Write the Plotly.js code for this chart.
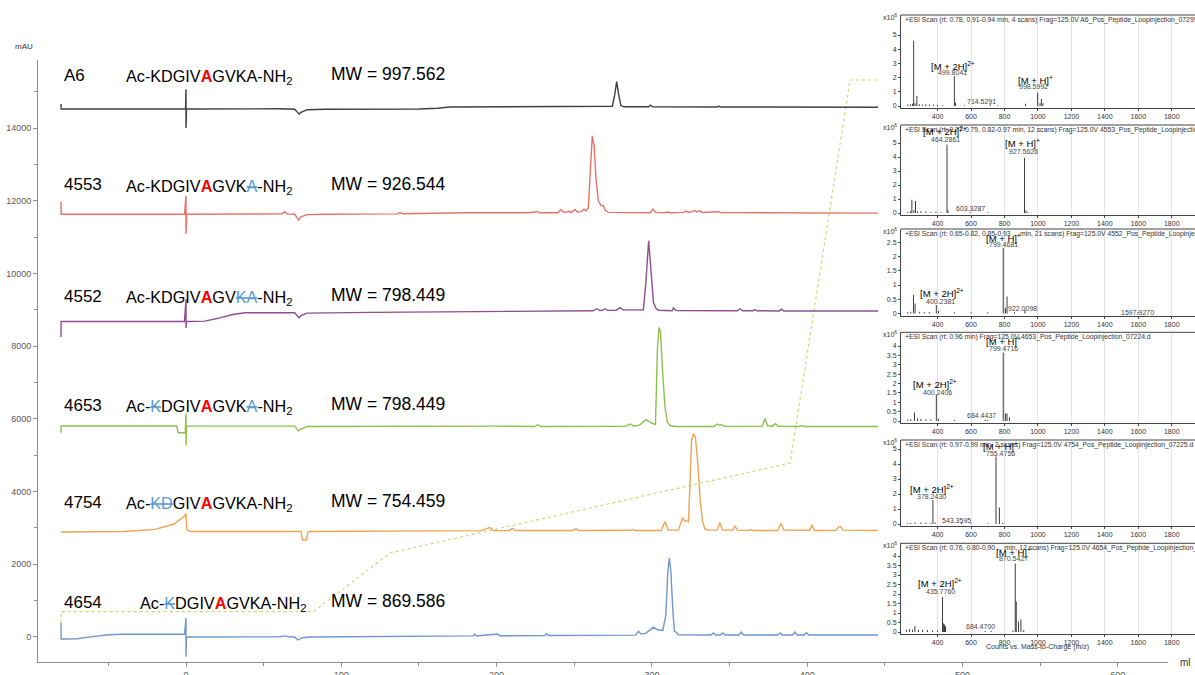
<!DOCTYPE html>
<html><head><meta charset="utf-8">
<script src="https://cdn.plot.ly/plotly-3.0.1.min.js"></script>
<style>body{margin:0;background:#fff}#c{width:1195px;height:675px}</style>
</head><body><div id="c"></div>
<script>
// ---------- Chromatogram data (ml, mAU) ----------
const a6_x = [-80.5,-80.4,-20,-0.3,0,0,0.3,60,70,72.8,74,78,90,150,162,170,200,270,274.5,276,277.3,278.5,280,282,298,299,300.5,342,343,344,445.6];
const a6_y = [14660,14525,14525,14525,15070,14000,14525,14530,14520,14385,14430,14505,14520,14525,14545,14580,14585,14580,14600,14900,15280,14950,14620,14585,14585,14630,14585,14580,14605,14580,14575];

const r_x = [-80.5,-80.4,-1,0,0,0.5,62,63.5,65,70,72.5,74,78,90,136,137.8,139.5,180,220,226.5,228,239.5,241.3,243,245,246.5,248,250.5,252,254.5,256.3,257.5,259,260.5,261.6,262.8,264,265.5,267,268.6,270,272,299,300.5,302.5,308,310,312,320.5,322,323.5,326,327.5,329,330.5,332.5,342,343,344.5,445.6];
const r_y = [11976,11630,11630,12130,11090,11630,11640,11700,11640,11630,11470,11560,11620,11630,11640,11680,11645,11670,11670,11700,11670,11670,11760,11690,11690,11710,11680,11760,11690,11700,11770,11720,11800,12900,13785,13500,12600,12000,11880,11870,11730,11680,11670,11770,11680,11670,11690,11670,11680,11720,11680,11700,11730,11690,11730,11680,11680,11700,11675,11660];

const p_x = [-80.5,-80.4,-1,0,0,0.3,12,20,30,38,70,72.8,74,78,120,200,262,264.5,266.5,268,269.8,271.5,277,279.5,281.5,294.5,296,297.9,299.5,301,302.5,304,313,313.9,315.5,355,356.7,358.5,365,366,367.5,382,383.6,385,445.6];
const p_y = [8250,8680,8680,9300,8500,8680,8690,8760,8870,8920,8920,8780,8840,8910,8930,8960,8975,9030,8980,8985,9030,8985,8990,9060,9000,9000,9700,10900,10000,9200,9050,8990,8975,9050,8980,8975,9030,8975,8975,9010,8975,8970,9020,8970,8968];

const g_x = [-80.5,-80.4,-6,-5,-0.5,0,0,0.3,70,72.5,74,78,200,224,226.5,228.5,283,286,288.5,292,296.2,300,302.3,302.8,303.6,304.6,305.5,307,308.5,310,312,315.5,340,342,343.5,345,347,371,372.8,374.5,377.5,379.5,381.5,395,396.5,398,445.6];
const g_y = [5620,5805,5805,5620,5620,6154,5274,5805,5800,5665,5720,5790,5800,5790,5840,5790,5795,5860,5800,5830,5980,5880,5850,6500,8000,8517,8400,7200,6300,5900,5810,5790,5790,5860,5830,5840,5795,5795,6010,5810,5800,5870,5795,5790,5815,5790,5790];

const o_x = [-80.5,-40,-20,-8,-1,0,0.5,3,60,74,75,77.5,78.5,80,190,195.7,198,208,210.3,212,249,251,253,270,272,274,286,287.5,289,306,308.4,310.5,317,319.8,321,322,323.5,324.5,325.5,326.7,328,329.5,331,332.5,334,336,342,343.8,345.5,352,353.5,355,362.5,363.5,365,381,383,385,401.5,403,404.5,418.5,420,421.5,423,445.6];
const o_y = [2890,2900,2960,3100,3330,3400,2950,2900,2900,2900,2670,2670,2880,2900,2925,3010,2930,2925,2990,2930,2930,2980,2930,2930,2950,2930,2935,2960,2930,2930,3180,2940,2940,3280,3180,3200,3170,4200,5400,5584,5500,4800,3800,3200,2980,2940,2940,3140,2940,2940,3060,2940,2930,2955,2930,2930,3130,2940,2935,3080,2930,2935,3030,3030,2940,2930];

const b_x = [-80.5,-80.4,-78,-70,-60,-50,-40,-1,0,0,0.3,60,64,66,70,72,75,80,150,185,185.9,187,200.5,202,231,232,233.5,289.5,291.3,293,296,301,303.5,305,307,309,310.2,311.2,312.2,313.5,314.5,315.5,317,338,339.6,341,344,345.6,347,356,357.6,359,381,382.7,384,390.5,392,393.5,398,399.5,401,445.6];
const b_y = [385,-55,-55,-50,10,60,75,75,522,-540,0,5,30,5,0,-83,-20,0,20,30,80,30,80,35,40,90,40,50,155,80,100,270,200,190,180,600,1800,2173,1800,700,150,135,60,55,110,55,55,110,55,55,135,55,55,110,55,55,135,55,55,120,55,55];

const grad_x = [-80.5,-80.5,82,131.4,389,427.6,445.6];
const grad_y = [385,696,696,2311,4787,15323,15323];

// ---------- MS spectra (m/z, intensity x10^6) ----------
const ms1_mz = [222,238,250,257,265,276,290,310,330,350,375,400,430,499.8,507,560,714.5,760,925,998.6,1012,1020,1030];
const ms1_in = [0.1,0.12,0.15,4.6,0.2,0.7,0.12,0.1,0.12,0.1,0.08,0.08,0.06,2.1,0.25,0.05,0.12,0.05,0.15,0.95,0.2,0.5,0.2];
const ms2_mz = [222,238,246,258,268,280,300,330,360,390,420,456,462,595,700,919,928,940];
const ms2_in = [0.08,0.12,0.95,0.2,0.85,0.12,0.12,0.1,0.08,0.1,0.06,4.9,0.2,0.08,0.05,3.95,0.2,0.08];
const ms3_mz = [222,240,255,265,290,320,350,392,405,500,600,700,792,805,815,860,922,1597.9];
const ms3_in = [0.05,0.06,0.65,0.35,0.06,0.05,0.05,0.3,0.1,0.04,0.04,0.04,2.3,0.2,0.6,0.05,0.12,0.04];
const ms4_mz = [222,240,262,280,300,330,360,392,405,500,684.4,700,792,805,815,830];
const ms4_in = [0.08,0.1,0.45,0.15,0.1,0.08,0.08,1.4,0.12,0.05,0.08,0.05,3.65,0.4,0.4,0.2];
const ms5_mz = [222,240,265,300,330,360,372,385,543.4,600,700,749,769,790];
const ms5_in = [0.06,0.08,0.1,0.1,0.08,0.06,1.6,0.1,0.1,0.05,0.05,4.5,1.1,0.08];
const ms6_mz = [215,232,250,264,285,310,340,370,400,429,436,441,447,684.5,720,850,864,870,884,898,915];
const ms6_in = [0.12,0.15,0.12,0.3,0.12,0.12,0.1,0.08,0.08,1.86,0.45,0.4,0.3,0.05,0.06,0.08,3.6,1.6,0.55,0.67,0.1];
// inset tick labels
const ms_xticks = [400,600,800,1000,1200,1400,1600,1800];
const ms_yt1 = [0,1,2,3,4,5];
const ms_yt3 = [0,0.5,1,1.5,2,2.5];
const ms_yt4 = [0,0.5,1,1.5,2,2.5,3,3.5,4];

// ---------- layout helpers (pixel -> paper) ----------
const W = 1195, H = 675;
const px = v => v / W, py = v => (H - v) / H;

const traces = [];
const main = [
  [a6_x, a6_y, '#404040'], [r_x, r_y, '#E5736A'], [p_x, p_y, '#8E4E91'],
  [g_x, g_y, '#8DC04C'], [o_x, o_y, '#EDA552'], [b_x, b_y, '#7096CB']
];
traces.push({x: grad_x, y: grad_y, mode: 'lines', line: {color: '#C8DB74', width: 1.2, dash: 'dot'}, xaxis: 'x', yaxis: 'y'});
main.forEach(m => traces.push({x: m[0], y: m[1], mode: 'lines', line: {color: m[2], width: 1.4}, xaxis: 'x', yaxis: 'y'}));

// inset panels: [mz, int, top px, zero px, px per unit, axis px, yticks]
const panels = [
  [ms1_mz, ms1_in, 15, 106, 14.2, 108, ms_yt1],
  [ms2_mz, ms2_in, 125, 213, 14.0, 215, ms_yt1],
  [ms3_mz, ms3_in, 229, 313.5, 28.5, 315.5, ms_yt3],
  [ms4_mz, ms4_in, 332.3, 421, 18.75, 423, ms_yt4],
  [ms5_mz, ms5_in, 440, 524, 15.0, 526, ms_yt1],
  [ms6_mz, ms6_in, 543.3, 632, 19.0, 634, ms_yt4]
];
const layout = {
  width: W, height: H, margin: {l: 0, r: 0, t: 0, b: 0},
  paper_bgcolor: '#fff', plot_bgcolor: 'rgba(0,0,0,0)', showlegend: false,
  font: {family: 'Liberation Sans, Arial, sans-serif', color: '#000'},
  xaxis: {domain: [px(38), px(1168)], range: [-95.3, 632.3], showgrid: false, zeroline: false,
    showline: true, linecolor: '#8c8c8c', ticks: 'outside', ticklen: 4, tickcolor: '#8c8c8c',
    dtick: 100, tick0: 0, tickfont: {size: 9, color: '#595959'},
    minor: {dtick: 50, ticks: 'outside', ticklen: 3, tickcolor: '#8c8c8c'}},
  yaxis: {domain: [py(662), py(60)], range: [-688, 15873], showgrid: false, zeroline: false,
    showline: true, linecolor: '#8c8c8c', ticks: 'outside', ticklen: 4, tickcolor: '#8c8c8c',
    dtick: 2000, tick0: 0, tickformat: 'd', tickfont: {size: 9, color: '#595959'},
    minor: {dtick: 1000, ticks: 'outside', ticklen: 3, tickcolor: '#8c8c8c'}},
  annotations: [], shapes: []
};
const A = layout.annotations;
panels.forEach((p, i) => {
  const k = i + 2;
  const top = (p[3] - p[2]) / p[4], bot = (p[3] - p[5]) / p[4];
  layout['xaxis' + k] = {domain: [px(901), 1], range: [181, 1939], anchor: 'y' + k,
    showgrid: true, gridcolor: '#e3e3e3', gridwidth: 1, zeroline: false, showline: true, linecolor: '#444',
    ticks: 'outside', ticklen: 2, tickcolor: '#444', tickmode: 'array', tickvals: ms_xticks,
    tickfont: {size: 7, color: '#333'}};
  layout['yaxis' + k] = {domain: [py(p[5]), py(p[2])], range: [bot, top], anchor: 'x' + k,
    showgrid: false, zeroline: false, showline: true, linecolor: '#444', ticks: 'outside', ticklen: 2,
    tickcolor: '#444', tickmode: 'array', tickvals: p[6], tickfont: {size: 7, color: '#333'}};
  traces.push({type: 'bar', x: p[0], y: p[1], width: 5, marker: {color: '#1a1a1a', line: {width: 0}},
    xaxis: 'x' + k, yaxis: 'y' + k});
  layout.shapes.push({type: 'line', xref: 'paper', yref: 'paper', x0: px(901), x1: 1, y0: py(p[2]), y1: py(p[2]),
    line: {color: '#444', width: 1}});
  A.push({xref: 'paper', yref: 'paper', x: px(881), y: py(p[2] + 2), xanchor: 'left', yanchor: 'middle',
    text: 'x10<sup>6</sup>', showarrow: false, font: {size: 7, color: '#333'}});
});
const titles = [
  '+ESI Scan (rt: 0.78, 0.91-0.94 min, 4 scans) Frag=125.0V A6_Pos_Peptide_Loopinjection_07299.d',
  '+ESI Scan (rt: 0.77-0.79, 0.82-0.97 min, 12 scans) Frag=125.0V 4553_Pos_Peptide_Loopinjection_07222.d',
  '+ESI Scan (rt: 0.65-0.82, 0.85-0.93 ... min, 21 scans) Frag=125.0V 4552_Pos_Peptide_Loopinjection_07223.d',
  '+ESI Scan (rt: 0.96 min) Frag=125.0V 4653_Pos_Peptide_Loopinjection_07224.d',
  '+ESI Scan (rt: 0.97-0.99 min, 2 scans) Frag=125.0V 4754_Pos_Peptide_Loopinjection_07225.d',
  '+ESI Scan (rt: 0.76, 0.80-0.90 ... min, 12 scans) Frag=125.0V 4654_Pos_Peptide_Loopinjection_07226.d'
];
titles.forEach((t, i) => A.push({xref: 'paper', yref: 'paper', x: px(903), y: py(panels[i][2] + 5),
  xanchor: 'left', yanchor: 'middle', text: t, showarrow: false, font: {size: 6.8, color: '#333'}}));

// MS peak labels: [text, px, py, size, color]
const msLabels = [
  ['[M + 2H]<sup>2+</sup>', 953, 66, 9.5, '#000'], ['499.8041', 952, 72, 7, '#444'],
  ['[M + H]<sup>+</sup>', 1035, 80, 9.5, '#000'], ['998.5992', 1033, 86, 7, '#444'], ['714.5291', 982, 102, 7, '#444'],
  ['[M + 2H]<sup>2+</sup>', 945, 131, 9.5, '#000'], ['464.2861', 945, 139, 7, '#444'],
  ['[M + H]<sup>+</sup>', 1022, 143, 9.5, '#000'], ['927.5626', 1023, 152, 7, '#444'], ['603.3287', 970, 208, 7, '#444'],
  ['[M + H]<sup>+</sup>', 1003, 238, 9.5, '#000'], ['799.4681', 1003, 244, 7, '#444'],
  ['[M + 2H]<sup>2+</sup>', 942, 293, 9.5, '#000'], ['400.2381', 940, 301, 7, '#444'], ['922.0098', 1022, 309, 7, '#444'], ['1597.9270', 1137, 312, 7, '#444'],
  ['[M + H]<sup>+</sup>', 1003, 341, 9.5, '#000'], ['799.4716', 1003, 348, 7, '#444'],
  ['[M + 2H]<sup>2+</sup>', 935, 384, 9.5, '#000'], ['400.2406', 937, 392, 7, '#444'], ['684.4437', 982, 415, 7, '#444'],
  ['[M + H]<sup>+</sup>', 1000, 446, 9.5, '#000'], ['755.4756', 1000, 453, 7, '#444'],
  ['[M + 2H]<sup>2+</sup>', 932, 489, 9.5, '#000'], ['378.2430', 932, 496, 7, '#444'], ['543.3595', 957, 520, 7, '#444'],
  ['[M + H]<sup>+</sup>', 1013, 552, 9.5, '#000'], ['870.5427', 1013, 558, 7, '#444'],
  ['[M + 2H]<sup>2+</sup>', 940, 583, 9.5, '#000'], ['435.7760', 940, 591, 7, '#444'], ['684.4700', 980, 626, 7, '#444'],
  ['Counts vs. Mass-to-Charge (m/z)', 1037, 647, 7, '#333']
];
msLabels.forEach(l => A.push({xref: 'paper', yref: 'paper', x: px(l[1]), y: py(l[2]), xanchor: 'center', yanchor: 'middle',
  text: l[0], showarrow: false, font: {size: l[3], color: l[4]}}));

// Left labels
const ids = ['A6', '4553', '4552', '4653', '4754', '4654'];
const B = '<span style="color:#5B9BD5"><s>', E = '</s></span>';
const R = '<b><span style="color:#FF0000">A</span></b>';
const seqs = [
  'Ac-KDGIV' + R + 'GVKA-NH<sub>2</sub>',
  'Ac-KDGIV' + R + 'GVK' + B + 'A' + E + '-NH<sub>2</sub>',
  'Ac-KDGIV' + R + 'GV' + B + 'KA' + E + '-NH<sub>2</sub>',
  'Ac-' + B + 'K' + E + 'DGIV' + R + 'GVK' + B + 'A' + E + '-NH<sub>2</sub>',
  'Ac-' + B + 'KD' + E + 'GIV' + R + 'GVKA-NH<sub>2</sub>',
  'Ac-' + B + 'K' + E + 'DGIV' + R + 'GVKA-NH<sub>2</sub>'
];
const mws = ['MW = 997.562', 'MW = 926.544', 'MW = 798.449', 'MW = 798.449', 'MW = 754.459', 'MW = 869.586'];
const rowY = [75, 185, 296, 405, 502, 602];
const seqX = [124, 124, 124, 124, 124, 138];
ids.forEach((id, i) => {
  A.push({xref: 'paper', yref: 'paper', x: px(62), y: py(rowY[i]), xanchor: 'left', yanchor: 'middle', text: id, showarrow: false, font: {size: 17}});
  A.push({xref: 'paper', yref: 'paper', x: px(seqX[i]), y: py(rowY[i] + 2), xanchor: 'left', yanchor: 'middle', text: seqs[i], showarrow: false, font: {size: 16.2}});
  A.push({xref: 'paper', yref: 'paper', x: px(329), y: py(rowY[i] - 1), xanchor: 'left', yanchor: 'middle', text: mws[i], showarrow: false, font: {size: 17.5}});
});
A.push({xref: 'paper', yref: 'paper', x: px(13), y: py(47), xanchor: 'left', yanchor: 'middle', text: 'mAU', showarrow: false, font: {size: 8, color: '#333'}});
A.push({xref: 'paper', yref: 'paper', x: px(1178), y: py(662), xanchor: 'left', yanchor: 'middle', text: 'ml', showarrow: false, font: {size: 10, color: '#333'}});

Plotly.newPlot('c', traces, layout, {staticPlot: true});
</script></body></html>
